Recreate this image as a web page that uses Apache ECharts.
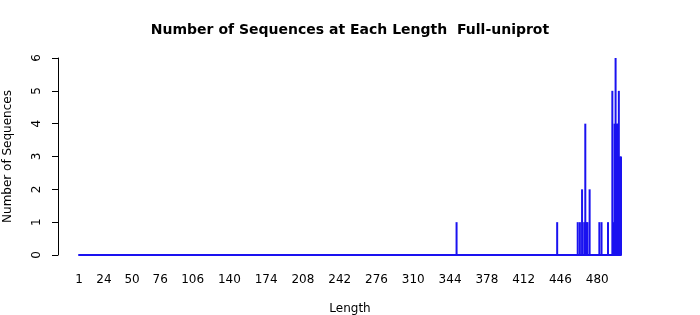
<!DOCTYPE html>
<html>
<head>
<meta charset="utf-8">
<script src="https://cdn.jsdelivr.net/npm/echarts@6/dist/echarts.min.js"></script>
<style>
html,body{margin:0;padding:0;background:#fff;}
#chart{width:700px;height:315px;}
</style>
</head>
<body>
<div id="chart"></div>
<script>
var titleText = 'Number of Sequences at Each Length  Full-uniprot';
var lengths = [350, 443, 462, 464, 466, 468, 469, 470, 471, 473, 482, 484, 490, 494, 495, 496, 497, 498, 499, 500, 501, 502];
var counts  = [1,   1,   1,   1,   2,   1,   4,   1,   1,   2,   1,   1,   1,   5,   1,   4,   6,   4,   4,   5,   3,   3];
var xTickLabels = [1, 24, 50, 76, 106, 140, 174, 208, 242, 276, 310, 344, 378, 412, 446, 480];
var yTicks = [0, 1, 2, 3, 4, 5, 6];
var xMin = 1, xMax = 502;

var data = lengths.map(function (l, i) { return [l, counts[i]]; });
var barColor = '#1a12f0';
var font = 'DejaVu Sans';

var chart = echarts.init(document.getElementById('chart'), null, {renderer: 'canvas'});
chart.setOption({
  animation: false,
  backgroundColor: '#ffffff',
  title: {
    text: titleText,
    left: 'center',
    top: 18,
    textStyle: {fontFamily: font, fontSize: 14, fontWeight: 'bold', color: '#000'}
  },
  grid: {left: 79, right: 79, top: 58, bottom: 60, containLabel: false, outerBoundsMode: 'none'},
  xAxis: {
    type: 'value',
    min: xMin,
    max: xMax,
    name: 'Length',
    nameLocation: 'middle',
    nameGap: 48,
    nameTextStyle: {fontFamily: font, fontSize: 12, color: '#000'},
    axisLine: {show: true, lineStyle: {color: barColor, width: 2}},
    axisTick: {show: false},
    splitLine: {show: false},
    axisLabel: {
      customValues: xTickLabels,
      margin: 19,
      fontFamily: font, fontSize: 12, color: '#000'
    }
  },
  yAxis: {
    type: 'value',
    min: 0,
    max: 6,
    interval: 1,
    offset: 21,
    name: 'Number of Sequences',
    nameLocation: 'middle',
    nameRotate: 90,
    nameGap: 44,
    nameTextStyle: {fontFamily: font, fontSize: 12, color: '#000'},
    axisLine: {show: true, lineStyle: {color: '#000', width: 1}},
    axisTick: {show: true, length: 6, lineStyle: {color: '#000'}},
    splitLine: {show: false},
    axisLabel: {
      rotate: 90,
      margin: 15,
      fontFamily: font, fontSize: 12, color: '#000',
      formatter: function (v) { return yTicks.indexOf(v) >= 0 ? String(v) : ''; }
    }
  },
  series: [{
    type: 'bar',
    data: data,
    barWidth: 2,
    itemStyle: {color: barColor},
    silent: true
  }]
});
</script>
</body>
</html>
